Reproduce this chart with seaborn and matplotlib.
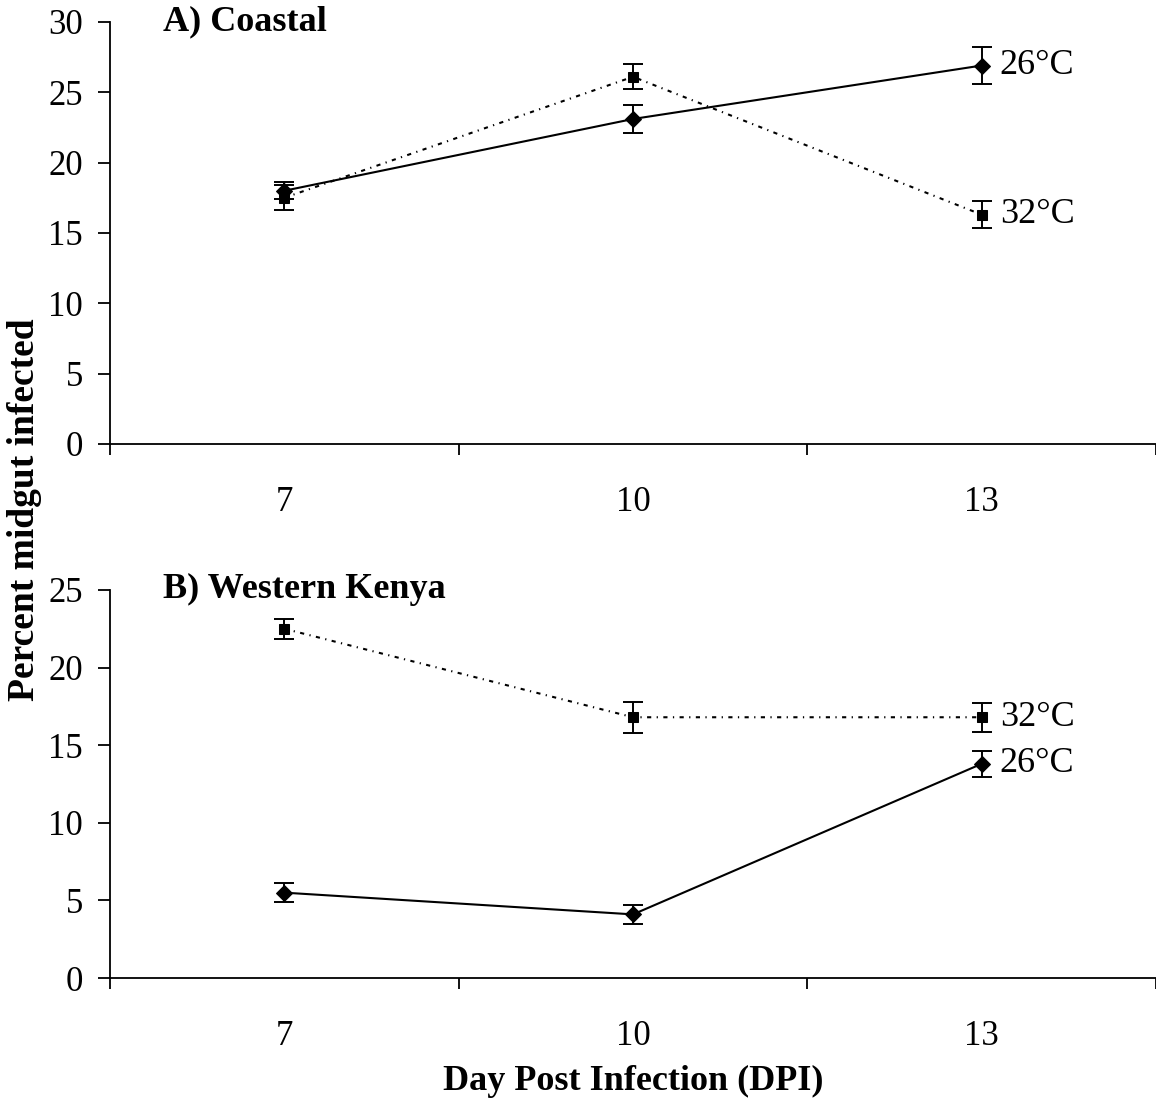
import numpy as np
import pandas as pd
import seaborn as sns
import matplotlib.pyplot as plt

# data
days = ["7", "10", "13"]
coastal_26 = [18.0, 23.1, 26.9]
coastal_26_err = [0.6, 1.0, 1.3]
coastal_32 = [17.5, 26.1, 16.3]
coastal_32_err = [0.9, 0.9, 0.95]
western_26 = [5.5, 4.1, 13.8]
western_26_err = [0.6, 0.6, 0.85]
western_32 = [22.5, 16.8, 16.8]
western_32_err = [0.65, 1.0, 0.95]

sns.set_style("white")
plt.rcParams['font.family'] = ['Liberation Serif', 'DejaVu Serif']
plt.rcParams['text.color'] = 'black'
plt.rcParams['xtick.color'] = 'black'
plt.rcParams['ytick.color'] = 'black'

fig = plt.figure(figsize=(11.56, 11.18), dpi=100)
axA = fig.add_axes([0.0952, 0.6029, 0.9048, 0.3775])
axB = fig.add_axes([0.0952, 0.1252, 0.9048, 0.3471])

pos = np.arange(len(days))
dotted = (0, (2.0, 2.6, 0.6, 2.6))


def draw_series(ax, vals, errs, marker, ms, ls, label):
    df = pd.DataFrame({"pos": pos, "val": vals})
    sns.lineplot(data=df, x="pos", y="val", ax=ax, color="black",
                 marker=marker, markersize=ms, markeredgecolor="black",
                 linestyle=ls, linewidth=1.5)
    ax.errorbar(pos, vals, yerr=errs, fmt="none", ecolor="black",
                elinewidth=1.4, capsize=7, capthick=1.4)
    ax.annotate(label, (pos[-1], vals[-1]), xytext=(13, 0),
                textcoords="offset points", va="center", ha="left",
                fontsize=26)


draw_series(axA, coastal_26, coastal_26_err, "D", 8, "-", "26°C")
draw_series(axA, coastal_32, coastal_32_err, "s", 7.5, dotted, "32°C")
draw_series(axB, western_26, western_26_err, "D", 8, "-", "26°C")
draw_series(axB, western_32, western_32_err, "s", 7.5, dotted, "32°C")

for ax, ymax, title in [(axA, 30, "A) Coastal"), (axB, 25, "B) Western Kenya")]:
    ax.set_xlim(-0.5, 2.5)
    ax.set_ylim(0, ymax)
    ax.set_yticks(np.arange(0, ymax + 1, 5))
    ax.set_xticks([-0.5, 0.5, 1.5, 2.5])
    ax.set_xticklabels([])
    ax.set_xticks(pos, minor=True)
    ax.set_xticklabels(days, minor=True)
    ax.tick_params(axis="x", which="major", direction="out", length=8,
                   width=1.3, bottom=True)
    ax.tick_params(axis="x", which="minor", length=0, pad=30, labelsize=25)
    ax.tick_params(axis="y", direction="out", length=8.6, width=1.3,
                   left=True, pad=11, labelsize=25)
    for side in ["top", "right"]:
        ax.spines[side].set_visible(False)
    for side in ["left", "bottom"]:
        ax.spines[side].set_color("black")
        ax.spines[side].set_linewidth(1.3)
    ax.set_xlabel("")
    ax.set_ylabel("")
    ax.text(0.0507, 1.0, title, transform=ax.transAxes, ha="left",
            va="center", fontsize=26, fontweight="bold")
    ax.patch.set_alpha(0)

fig.text(0.021, 0.544, "Percent midgut infected", rotation=90,
         ha="center", va="center", fontsize=27, fontweight="bold")
fig.text(0.548, 0.033, "Day Post Infection (DPI)", ha="center",
         va="center", fontsize=26, fontweight="bold")

fig.savefig("out.png", dpi=100)
